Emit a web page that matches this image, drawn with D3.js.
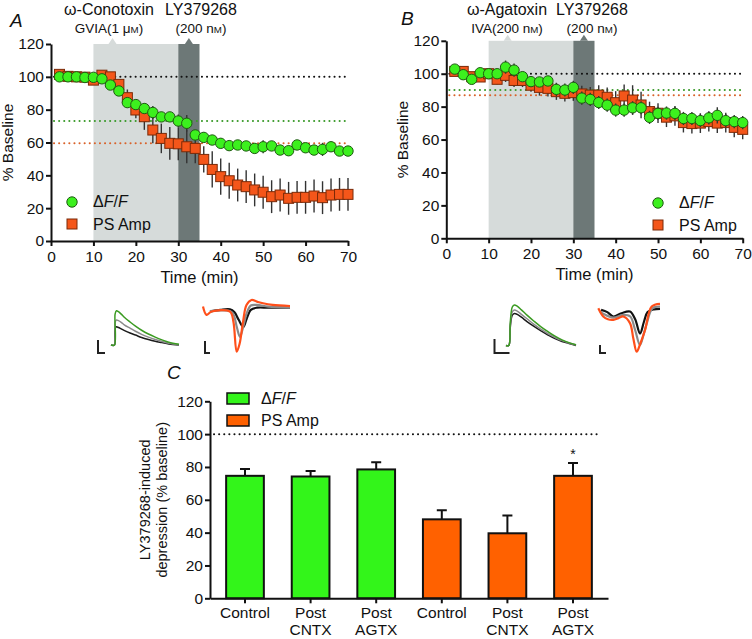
<!DOCTYPE html>
<html><head><meta charset="utf-8">
<script src="https://cdn.jsdelivr.net/npm/d3@7"></script>
<style>body{margin:0;background:#fff}svg{display:block}text{font-family:"Liberation Sans",Arial,sans-serif;fill:#111}</style>
</head><body><svg id="c" width="752" height="639"></svg>
<script>
// ---------- DATA ----------
const timeMin = [2,4,6,8,10,12,14,16,18,20,22,24,26,28,30,32,34,36,38,40,42,44,46,48,50,52,54,56,58,60,62,64,66,68,70];
const xTickVals = [0,10,20,30,40,50,60,70];
const yTickVals = [0,20,40,60,80,100,120];
const drugWindow = [10,30];
const lyWindow = [30,35];

const aDFF = [100,100,100,99.6,99.7,98.8,95,91.4,84.3,83.1,80.7,78.3,75.6,75.6,73.1,71.7,64.6,63.1,61.5,59.5,58.1,58.5,57.9,56.4,57.4,57.9,55.4,55,58.5,56.8,55.4,55.8,57.4,54.8,54.8];
const aDFFerr = [1,1,1,1,1,1,2,2,3,3,3,4,3,3,4,5,3,3,3,3,3,3,3,3,4,3,3,3,3,3,3,4,3,3,3];
const aPS = [101.5,100.3,100,99.8,98,101,100,95.4,87.3,79.8,75.7,67.6,62.5,59.5,59.2,57.4,56.4,49.7,43.6,39.2,36.7,34.1,33.1,31.1,29.7,27,28,26,26.6,26.6,27.4,26.4,28,28.4,28.4];
const aPSerr = [1,1,1,1,1,1,2,2,5,5,8,8,9,10,10,10,9,8,11,11,11,10,10,10,10,10,10,10,10,10,10,10,10,10,10];
const aRefDFF = 73.1, aRefPS = 59.5;

const bDFF = [102.8,99.4,96.6,100.6,100,100,104,102.2,98.2,95.2,95,95.6,90.5,90.1,91.7,85.2,84.4,82.5,80.9,77.9,77.9,79.3,79.3,73.5,75.9,76.1,75.9,72.8,72.8,71.5,73.2,74.7,71.5,70.9,70.3];
const bDFFerr = [2,2,2,2,2,2,4,4,3,3,3,3,4,4,4,4,4,4,4,4,4,4,4,4,4,4,4,4,4,4,4,5,4,4,4];
const bPS = [101.4,101.4,98.2,98,100,96.6,99,95.9,95.9,93,91.7,91.1,89.1,88.1,88.5,87.7,87,87,85.7,82.4,86.5,84,81,77,76,73.6,74.4,70.3,69.7,70,70.9,70,70.3,67.4,66.2];
const bPSerr = [2,2,2,2,2,3,4,4,4,4,5,5,5,5,5,5,5,6,6,7,7,9,8,6,6,6,6,6,6,6,6,6,6,6,6];
const bRefDFF = 90.1, bRefPS = 86.9;

const barCats = [["Control"],["Post","CNTX"],["Post","AGTX"],["Control"],["Post","CNTX"],["Post","AGTX"]];
const barGroup = ["dff","dff","dff","ps","ps","ps"];
const barVals = [74.6,74.2,78.5,48.1,39.6,74.6];
const barErr = [4.1,3.4,4.4,5.5,10.9,7.8];
const barSig = ["","","","","","*"];

// sweep traces (arbitrary units 0..100 on x)
const fxA = [0,5,6,8,11,15,20,28,36,45,55,65,75,85,100];
const fA_green = [0,0,0.9,1.0,0.97,0.9,0.8,0.67,0.55,0.43,0.32,0.23,0.15,0.08,0.02];
const fA_gray  = [0,0,0.66,0.73,0.71,0.66,0.58,0.49,0.4,0.31,0.23,0.16,0.1,0.05,0.01];
const fA_black = [0,0,0.48,0.53,0.51,0.47,0.42,0.35,0.29,0.22,0.16,0.11,0.07,0.03,0.0];
const fxB = [0,4,6,9,12,16,22,30,40,50,60,70,80,90,100];
const fB_green = [0,0,0.55,0.95,1.0,0.97,0.88,0.75,0.6,0.46,0.34,0.23,0.14,0.07,0.02];
const fB_gray  = [0,0,0.48,0.83,0.875,0.85,0.77,0.66,0.52,0.4,0.29,0.2,0.12,0.06,0.01];
const fB_black = [0,0,0.43,0.75,0.79,0.77,0.7,0.59,0.47,0.36,0.26,0.17,0.1,0.05,0.0];

const psA_orange_x = [0,4,10,31,35,38.7,42,46,50,55.8,62,69,80,100];
const psA_orange_y = [12,27,21,21,40,94,80,40,9,0,3,6,9,11];
const psA_gray_x = [8,20,31,35,39,42.5,46,50,55,62,75,100];
const psA_gray_y = [20,19,20,26,50,67,50,25,10,9,12,14];
const psA_black_x = [8,20,31,36,41,46.3,50,55,62,75,100];
const psA_black_y = [21,18,17,22,36,49,35,18,14,14,14];

const psB_orange_x = [0.5,8.5,16,24.7,33,40.8,51.6,57,62.4,68,75.8,86.6,100];
const psB_orange_y = [15,30,35,36,33,30,42,70,94,80,55,12,7];
const psB_gray_x = [3,10,24.7,40.8,52,60,67.7,73,78,88,100];
const psB_gray_y = [20,26,32,27,30,55,82,65,45,15,12];
const psB_black_x = [5,15,24.7,38,51.6,60,67.7,74,80,90,100];
const psB_black_y = [18,22,30,24,21,35,61,40,22,17,16];

// ---------- STYLE ----------
const GREEN = "#3cf01e", ORANGE = "#f4561a", BAR_GREEN = "#33f51a", BAR_ORANGE = "#ff6100";
const GREEN_DOT = "#3a9a2a", ORANGE_DOT = "#d9622a";
const LIGHT = "#d6dbda", DARK = "#6d7877";
const svg = d3.select("#c");

function styleAxis(g){
  g.selectAll(".domain").attr("stroke","#111").attr("stroke-width",2);
  g.selectAll(".tick line").attr("stroke","#111").attr("stroke-width",2);
  g.selectAll(".tick text").attr("font-size",15.5).attr("fill","#111").style("font-family",'"Liberation Sans",Arial,sans-serif');
}

function smallM(t, pre, post){
  t.append("tspan").text(pre);
  t.append("tspan").attr("font-size","0.72em").text("M");
  t.append("tspan").text(post);
}

function timePanel(o){
  const x = d3.scaleLinear().domain([0,70]).range(o.xr);
  const y = d3.scaleLinear().domain([0,120]).range(o.yr);
  const g = svg.append("g");
  g.append("rect").attr("x",x(drugWindow[0])).attr("y",y(120)).attr("width",x(drugWindow[1])-x(drugWindow[0])).attr("height",y(0)-y(120)).attr("fill",LIGHT);
  g.append("rect").attr("x",x(lyWindow[0])).attr("y",y(120)).attr("width",x(lyWindow[1])-x(lyWindow[0])).attr("height",y(0)-y(120)).attr("fill",DARK);
  const tri = (cx, col) => g.append("path").attr("d",`M${cx-4},${y(120)}L${cx},${y(120)-6}L${cx+4},${y(120)}Z`).attr("fill",col);
  tri(x(o.tri1), LIGHT); tri(x(o.tri2), DARK);
  const ref = (v,col) => g.append("line").attr("x1",x(0)+3).attr("x2",x(70)).attr("y1",y(v)).attr("y2",y(v))
     .attr("stroke",col).attr("stroke-width",2).attr("stroke-dasharray","0.1,5").attr("stroke-linecap","round");
  ref(100,"#111"); ref(o.refDFF,GREEN_DOT); ref(o.refPS,ORANGE_DOT);
  const ax = g.append("g").attr("transform",`translate(0,${y(0)})`).call(d3.axisBottom(x).tickValues(xTickVals).tickSize(5).tickSizeOuter(0).tickPadding(5));
  styleAxis(ax);
  const ay = g.append("g").attr("transform",`translate(${x(0)},0)`).call(d3.axisLeft(y).tickValues(yTickVals).tickSize(5).tickSizeOuter(0).tickPadding(2));
  styleAxis(ay);
  const series = (vals, errs, kind) => {
    const gg = g.append("g");
    gg.selectAll("line.e").data(timeMin).join("line").attr("x1",d=>x(d)).attr("x2",d=>x(d))
      .attr("y1",(d,i)=>y(vals[i]-errs[i])).attr("y2",(d,i)=>y(vals[i]+errs[i])).attr("stroke","#333").attr("stroke-width",1.4);
    if(kind==="sq"){
      gg.selectAll("rect").data(timeMin).join("rect").attr("x",d=>x(d)-5).attr("y",(d,i)=>y(vals[i])-5).attr("width",10).attr("height",10)
        .attr("fill",ORANGE).attr("stroke","#7a2a08").attr("stroke-width",1);
    } else {
      gg.selectAll("circle").data(timeMin).join("circle").attr("cx",d=>x(d)).attr("cy",(d,i)=>y(vals[i])).attr("r",5.2)
        .attr("fill",GREEN).attr("stroke","#1f5a12").attr("stroke-width",1);
    }
  };
  series(o.ps, o.psErr, "sq");
  series(o.dff, o.dffErr, "ci");
  const lg = g.append("g");
  lg.append("circle").attr("cx",o.leg[0]).attr("cy",o.leg[1]).attr("r",5.2).attr("fill",GREEN).attr("stroke","#1f5a12");
  lg.append("rect").attr("x",o.leg[0]-5).attr("y",o.leg[1]+17).attr("width",10).attr("height",10).attr("fill",ORANGE).attr("stroke","#7a2a08");
  const t1 = lg.append("text").attr("x",o.leg[0]+21).attr("y",o.leg[1]+5).attr("font-size",16);
  t1.append("tspan").text("\u0394"); t1.append("tspan").attr("font-style","italic").text("F"); t1.append("tspan").text("/"); t1.append("tspan").attr("font-style","italic").text("F");
  lg.append("text").attr("x",o.leg[0]+21).attr("y",o.leg[1]+28).attr("font-size",16).text("PS Amp");
  g.append("text").attr("transform",`translate(${x(0)-o.ylabOff},${(y(0)+y(120))/2}) rotate(-90)`).attr("text-anchor","middle").attr("font-size",15.5).text("% Baseline");
  g.append("text").attr("x",x(35)).attr("y",y(0)+42).attr("text-anchor","middle").attr("font-size",16.5).text("Time (min)");
  g.append("text").attr("x",o.panelXY[0]).attr("y",o.panelXY[1]).attr("font-size",19).attr("font-style","italic").text(o.panel);
  g.append("text").attr("x",o.drugX).attr("y",15).attr("text-anchor","middle").attr("font-size",16).text(o.drug1);
  const d2 = g.append("text").attr("x",o.drugX).attr("y",33).attr("text-anchor","middle").attr("font-size",13.5);
  smallM(d2, o.drug2pre, ")");
  g.append("text").attr("x",o.lyX).attr("y",15).attr("text-anchor","middle").attr("font-size",16).text("LY379268");
  const l2 = g.append("text").attr("x",o.lyX).attr("y",33).attr("text-anchor","middle").attr("font-size",13.5);
  smallM(l2, "(200 n", ")");
}

timePanel({xr:[51,348], yr:[241,44], tri1:14.5, tri2:32.5, refDFF:aRefDFF, refPS:aRefPS,
  dff:aDFF, dffErr:aDFFerr, ps:aPS, psErr:aPSerr, leg:[72,202], ylabOff:38, panel:"A", panelXY:[10,27],
  drug1:"\u03c9-Conotoxin", drug2pre:"GVIA(1 \u03bc", drugX:109, lyX:201});
timePanel({xr:[446.3,742.7], yr:[238.3,40.8], tri1:14.5, tri2:32.5, refDFF:bRefDFF, refPS:bRefPS,
  dff:bDFF, dffErr:bDFFerr, ps:bPS, psErr:bPSerr, leg:[658,203], ylabOff:38, panel:"B", panelXY:[401,25],
  drug1:"\u03c9-Agatoxin", drug2pre:"IVA(200 n", drugX:507, lyX:592});

// ---------- traces ----------
function trace(xr, yr, yd, xs, ys, col, w){
  const sx = d3.scaleLinear().domain([0,100]).range(xr);
  const sy = d3.scaleLinear().domain(yd).range(yr);
  const line = d3.line().x(d=>sx(d[0])).y(d=>sy(d[1])).curve(d3.curveCatmullRom.alpha(0.5));
  svg.append("path").attr("d", line(xs.map((v,i)=>[v,ys[i]]))).attr("fill","none").attr("stroke",col).attr("stroke-width",w||1.6).attr("stroke-linejoin","round");
}
function scaleBar(x0,y0,h,w){
  svg.append("path").attr("d",`M${x0},${y0}V${y0+h}H${x0+w}`).attr("fill","none").attr("stroke","#222").attr("stroke-width",2);
}
trace([111,179],[345,310.7],[0,1],fxA,fA_black,"#1a1a1a",1.5);
trace([111,179],[345,310.7],[0,1],fxA,fA_gray,"#8a8a8a",1.5);
trace([111,179],[345,310.7],[0,1],fxA,fA_green,"#3b9b22",1.5);
scaleBar(98,340,13,7);
trace([203,290],[300,355],[0,100],psA_black_x,psA_black_y,"#111",2.2);
trace([203,290],[300,355],[0,100],psA_gray_x,psA_gray_y,"#8a8a8a",2.2);
trace([203,290],[300,355],[0,100],psA_orange_x,psA_orange_y,"#ff4f1a",2.2);
scaleBar(205,341,12,5);

trace([506,576],[345.5,305],[0,1],fxB,fB_black,"#1a1a1a",1.5);
trace([506,576],[345.5,305],[0,1],fxB,fB_gray,"#8a8a8a",1.5);
trace([506,576],[345.5,305],[0,1],fxB,fB_green,"#3b9b22",1.5);
scaleBar(494.5,339,14,15);
trace([598,660],[300,355],[0,100],psB_black_x,psB_black_y,"#111",2.2);
trace([598,660],[300,355],[0,100],psB_gray_x,psB_gray_y,"#8a8a8a",2.2);
trace([598,660],[300,355],[0,100],psB_orange_x,psB_orange_y,"#ff4f1a",2.2);
scaleBar(600,345,8,6);

// ---------- panel C ----------
(function(){
  const ids = barCats.map((d,i)=>i);
  const x = d3.scaleBand().domain(ids).range([210,608]).paddingInner(0.425).paddingOuter(0.246);
  const y = d3.scaleLinear().domain([0,120]).range([598.3,401.3]);
  const g = svg.append("g");
  g.append("line").attr("x1",214).attr("x2",597).attr("y1",y(100)).attr("y2",y(100)).attr("stroke","#111").attr("stroke-width",2).attr("stroke-dasharray","0.1,5").attr("stroke-linecap","round");
  g.selectAll("path.err").data(ids).join("path").attr("d",i=>{const cx=x(i)+x.bandwidth()/2; const t=y(barVals[i]+barErr[i]); return `M${cx},${y(barVals[i])}V${t}M${cx-5},${t}H${cx+5}`;})
    .attr("stroke","#111").attr("stroke-width",2).attr("fill","none");
  g.selectAll("rect.bar").data(ids).join("rect").attr("x",i=>x(i)).attr("width",x.bandwidth()).attr("y",i=>y(barVals[i])).attr("height",i=>y(0)-y(barVals[i]))
    .attr("fill",i=>barGroup[i]==="dff"?BAR_GREEN:BAR_ORANGE).attr("stroke","#111").attr("stroke-width",2);
  g.selectAll("text.sig").data(ids.filter(i=>barSig[i])).join("text").attr("x",i=>x(i)+x.bandwidth()/2).attr("y",i=>y(barVals[i]+barErr[i])-4)
    .attr("text-anchor","middle").attr("font-size",14).text(i=>barSig[i]);
  const ay = g.append("g").attr("transform","translate(210,0)").call(d3.axisLeft(y).tickValues(yTickVals).tickSize(5).tickSizeOuter(0).tickPadding(2));
  styleAxis(ay);
  const ax = g.append("g").attr("transform",`translate(0,${y(0)})`).call(d3.axisBottom(x).tickSize(5).tickSizeOuter(0).tickFormat(""));
  styleAxis(ax);
  ids.forEach(i=>{
    const t = g.append("text").attr("x",x(i)+x.bandwidth()/2).attr("y",y(0)+20).attr("text-anchor","middle").attr("font-size",15.5);
    barCats[i].forEach((s,k)=>t.append("tspan").attr("x",x(i)+x.bandwidth()/2).attr("dy",k?17:0).text(s));
  });
  g.append("rect").attr("x",227).attr("y",393).attr("width",22).attr("height",11).attr("fill",BAR_GREEN).attr("stroke","#111").attr("stroke-width",1.5);
  g.append("rect").attr("x",227).attr("y",415).attr("width",22).attr("height",11).attr("fill",BAR_ORANGE).attr("stroke","#111").attr("stroke-width",1.5);
  const t1 = g.append("text").attr("x",261).attr("y",404).attr("font-size",16);
  t1.append("tspan").text("\u0394"); t1.append("tspan").attr("font-style","italic").text("F"); t1.append("tspan").text("/"); t1.append("tspan").attr("font-style","italic").text("F");
  g.append("text").attr("x",261).attr("y",426).attr("font-size",16).text("PS Amp");
  const yl = g.append("text").attr("transform",`translate(0,${(y(0)+y(120))/2}) rotate(-90)`).attr("text-anchor","middle").attr("font-size",14.5);
  yl.append("tspan").attr("x",0).attr("y",150).text("LY379268-induced");
  yl.append("tspan").attr("x",0).attr("y",167).text("depression (% baseline)");
  g.append("text").attr("x",167).attr("y",379).attr("font-size",19).attr("font-style","italic").text("C");
})();
</script></body></html>
